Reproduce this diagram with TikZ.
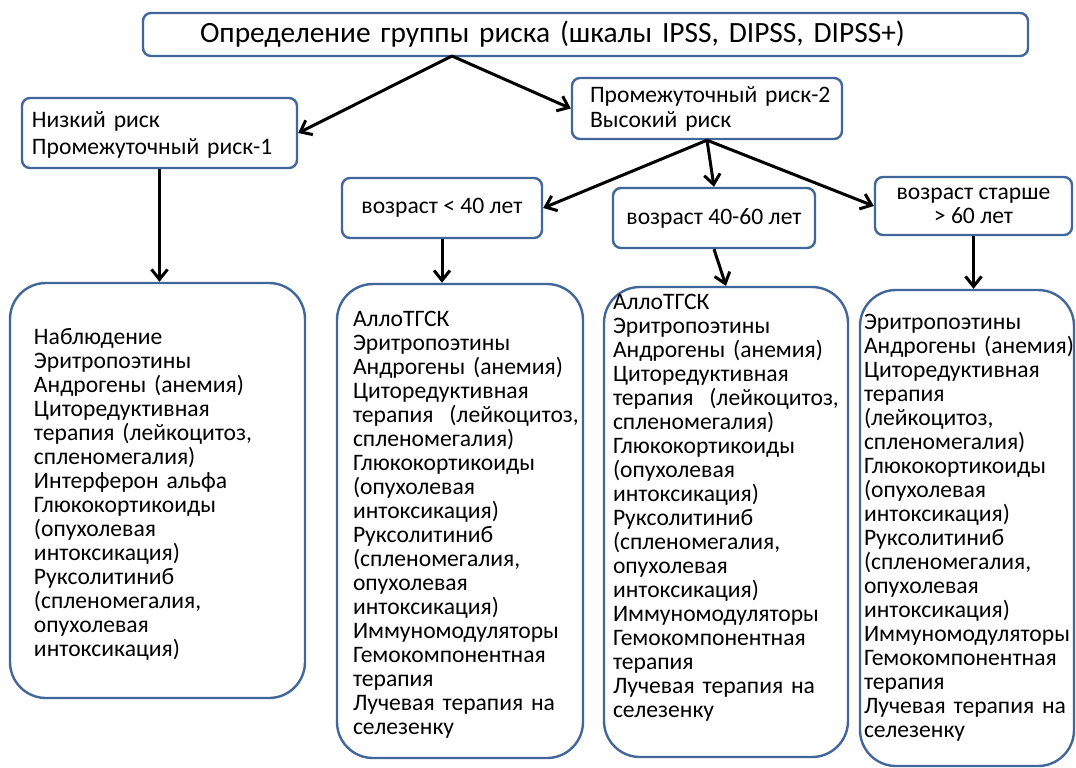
\documentclass[tikz,border=0pt]{standalone}
\usepackage{fontspec}
\setmainfont{Carlito}
\usetikzlibrary{positioning,arrows.meta}
\definecolor{frame}{HTML}{41679A}

\begin{document}
\begin{tikzpicture}[
    x=0.5pt, y=-0.5pt,
    box/.style={draw=frame, line width=1.2pt, rounded corners=4pt, inner xsep=0pt, inner ysep=2pt,
      font=\fontsize{11.8}{12}\selectfont},
    leftbox/.style={box, align=left, execute at begin node={\leftskip=#1\rightskip=-40pt plus 1fil}},
    agebox/.style={box, align=center},
    listbox/.style={leftbox=#1, rounded corners=18pt},
    arr/.style={-{Straight Barb[length=5pt,width=8pt]}, line width=1.5pt},
  ]
    \useasboundingbox (0,0) rectangle (1076,767);

    \node[leftbox=28.5pt, minimum width=442.5pt, minimum height=21.5pt, text width=442.5pt,
          font=\fontsize{14.7}{17}\selectfont] (title) at (585.5,34.5)
      {Определение группы риска (шкалы IPSS, DIPSS, DIPSS+)};
    \node[leftbox=5pt, minimum width=137.5pt, minimum height=35pt, text width=137.5pt,
          font=\fontsize{11.8}{13.5}\selectfont, text height=9.5pt] (low) at (159.5,133)
      {Низкий риск\\Промежуточный риск-1};
    \node[leftbox=9pt, minimum width=135pt, minimum height=30.5pt, text width=135pt,
          font=\fontsize{11.8}{12.5}\selectfont] (high) at (707,108.5)
      {Промежуточный риск-2\\Высокий риск};

    \node[agebox, minimum width=100pt, minimum height=30pt] (young) at (442,208) {возраст < 40 лет};
    \node[agebox, minimum width=101pt, minimum height=30pt] (middle) at (714,218) {возраст 40-60 лет};
    \node[agebox, minimum width=98.5pt, minimum height=29pt] (old) at (973.5,206) {возраст старше\\> 60 лет};

    \node[listbox=12pt, minimum width=147.5pt, minimum height=207.5pt, text width=147.5pt, text height=12pt] (treatlow) at (157.5,490.5)
      {Наблюдение\\Эритропоэтины\\Андрогены (анемия)\\Циторедуктивная\\терапия (лейкоцитоз,\\спленомегалия)\\Интерферон альфа\\Глюкокортикоиды\\(опухолевая\\интоксикация)\\Руксолитиниб\\(спленомегалия,\\опухолевая\\интоксикация)};
    \node[listbox=8pt, minimum width=123pt, minimum height=237pt, text width=123pt, text height=11pt] (treatyoung) at (460,521)
      {АллоТГСК\\Эритропоэтины\\Андрогены (анемия)\\Циторедуктивная\\терапия\ \ (лейкоцитоз,\\спленомегалия)\\Глюкокортикоиды\\(опухолевая\\интоксикация)\\Руксолитиниб\\(спленомегалия,\\опухолевая\\интоксикация)\\Иммуномодуляторы\\Гемокомпонентная\\терапия\\Лучевая терапия на\\селезенку};
    \node[listbox=4.5pt, minimum width=122pt, minimum height=235pt, text width=122pt, text depth=220.5pt] (treatmiddle) at (726,522)
      {АллоТГСК\\Эритропоэтины\\Андрогены (анемия)\\Циторедуктивная\\терапия\ \ (лейкоцитоз,\\спленомегалия)\\Глюкокортикоиды\\(опухолевая\\интоксикация)\\Руксолитиниб\\(спленомегалия,\\опухолевая\\интоксикация)\\Иммуномодуляторы\\Гемокомпонентная\\терапия\\Лучевая терапия на\\селезенку};
    \node[listbox=2pt, minimum width=107pt, minimum height=238pt, text width=107pt] (treatold) at (967,528)
      {Эритропоэтины\\Андрогены (анемия)\\Циторедуктивная\\терапия\\(лейкоцитоз,\\спленомегалия)\\Глюкокортикоиды\\(опухолевая\\интоксикация)\\Руксолитиниб\\(спленомегалия,\\опухолевая\\интоксикация)\\Иммуномодуляторы\\Гемокомпонентная\\терапия\\Лучевая терапия на\\селезенку};

    \coordinate (split) at (452,56);
    \draw[arr] (split) -- (low.east);
    \draw[arr] (split) -- (high.west);
    \draw[arr] (low.south) -- (low.south |- treatlow.north);
    \draw[arr] (high.south) -- (young.east);
    \draw[arr] (high.south) -- (middle.north);
    \draw[arr] (high.south) -- (old.west);
    \draw[arr] (young.south) -- (young.south |- treatyoung.north);
    \draw[arr] (middle.south) -- (treatmiddle.north);
    \draw[arr] (old.south) -- (old.south |- treatold.north);
  \end{tikzpicture}
\end{document}
